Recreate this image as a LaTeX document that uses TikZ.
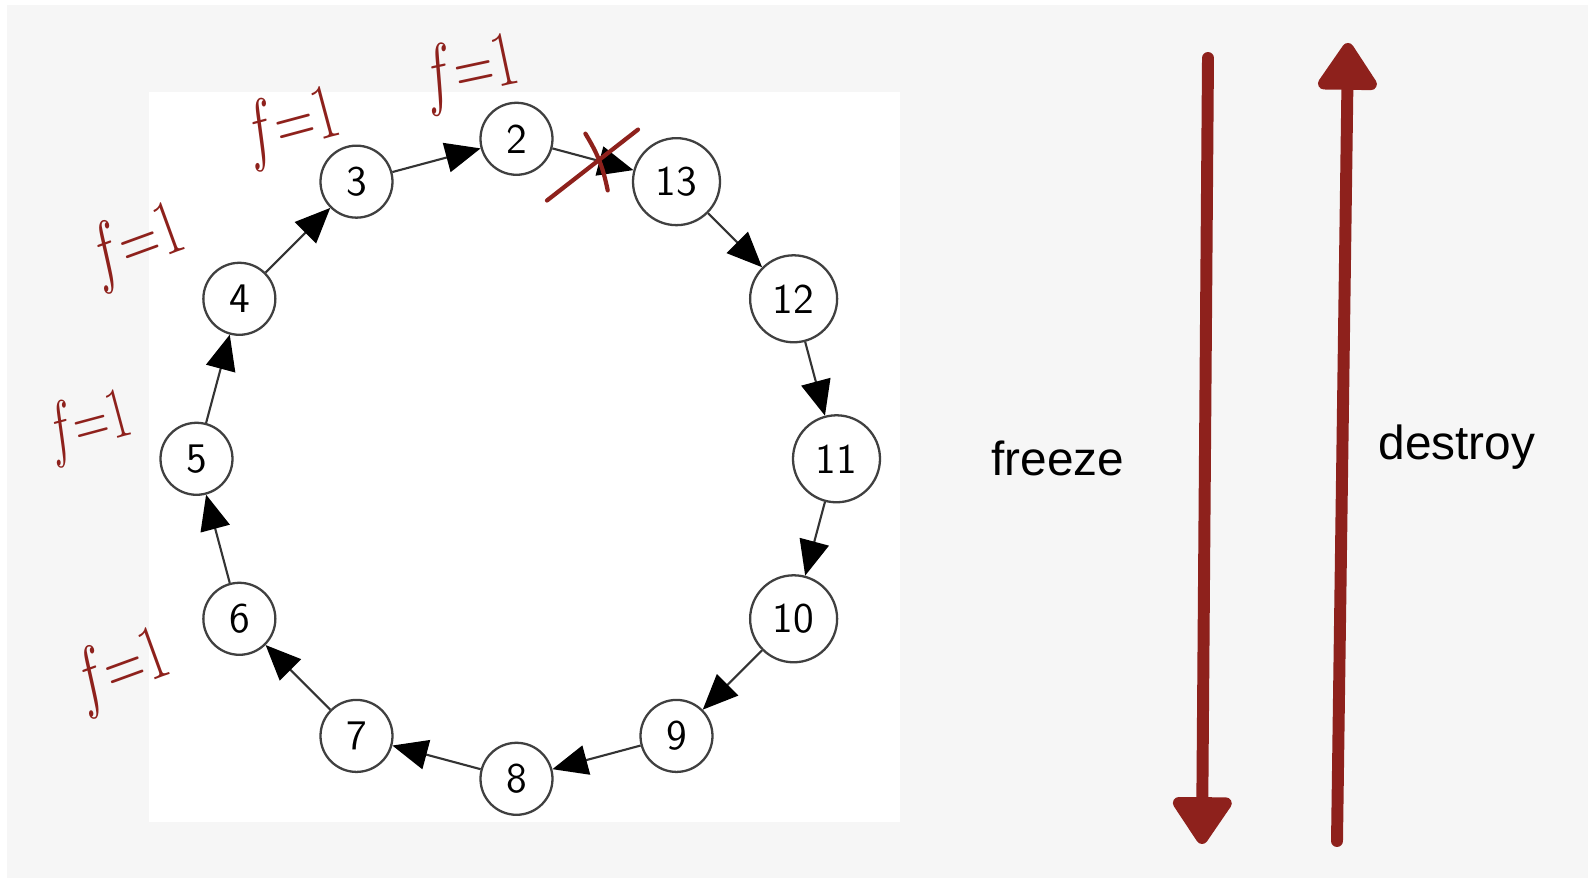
\documentclass[tikz,border=0pt]{standalone}
\usepackage{fontspec}
\newfontfamily\labelfont{Liberation Sans}
\usetikzlibrary{arrows.meta}
\definecolor{handred}{RGB}{142,33,28}
\definecolor{slidegray}{RGB}{246,246,246}

\begin{document}
\begin{tikzpicture}[
    every node/.style={font=\sffamily\fontsize{12}{14}\selectfont},
    vert/.style={circle, draw=black!75, line width=0.65pt, fill=white,
      minimum size=7.2mm, inner sep=0pt},
    wide/.style={minimum size=8.7mm},
    edge/.style={-{Triangle[length=10pt,width=8.5pt,color=black]},
      line width=0.6pt, black!80},
    fnote/.style={text=handred, font=\fontsize{18}{20}\selectfont},
    bigarrow/.style={-{Triangle[length=0.52cm,width=0.66cm,round]},
      line width=3.4pt, handred, line cap=round},
  ]
  \def\R{3.2cm}

  % slide background and the white panel behind the ring
  \useasboundingbox (-5.165,-4.222) rectangle (10.715,4.588);
  \fill[slidegray] (-5.095,-4.192) rectangle (10.715,4.538);
  \fill[white] (-3.675,-3.632) rectangle (3.835,3.668);

  \node[vert] (n2) at (90:\R) {2};
  \node[vert] (n3) at (120:\R) {3};
  \node[vert] (n4) at (150:\R) {4};
  \node[vert] (n5) at (180:\R) {5};
  \node[vert] (n6) at (210:\R) {6};
  \node[vert] (n7) at (240:\R) {7};
  \node[vert] (n8) at (270:\R) {8};
  \node[vert] (n9) at (300:\R) {9};
  \node[vert, wide] (n10) at (330:\R) {10};
  \node[vert, wide] (n11) at (0:\R) {11};
  \node[vert, wide] (n12) at (30:\R) {12};
  \node[vert, wide] (n13) at (60:\R) {13};

  \draw[edge] (n13) -- (n12);
  \draw[edge] (n12) -- (n11);
  \draw[edge] (n11) -- (n10);
  \draw[edge] (n10) -- (n9);
  \draw[edge] (n9) -- (n8);
  \draw[edge] (n8) -- (n7);
  \draw[edge] (n7) -- (n6);
  \draw[edge] (n6) -- (n5);
  \draw[edge] (n5) -- (n4);
  \draw[edge] (n4) -- (n3);
  \draw[edge] (n3) -- (n2);
  \draw[edge] (n2) -- (n13);

  % crossed-out link
  \draw[handred, line width=1.2pt, line cap=round] (0.305,2.583) -- (1.215,3.292);
  \draw[handred, line width=1.2pt, line cap=round] (0.689,3.251) to[bend left=10] (0.912,2.684);

  % hand notes
  \node[fnote, rotate=20] (f4) at (-3.795,2.128) {\scalebox{0.9}[1.3]{$f{=}1$}};
  \node[fnote, rotate=15] (f3) at (-2.245,3.318) {\scalebox{0.9}[1.3]{$f{=}1$}};
  \node[fnote, rotate=12] (f2) at (-0.455,3.858) {\scalebox{0.9}[1.3]{$f{=}1$}};
  \node[fnote, rotate=15] (f5) at (-4.275,0.318) {\scalebox{0.8}[1.2]{$f{=}1$}};
  \node[fnote, rotate=20] (f6) at (-3.945,-2.122) {\scalebox{0.9}[1.3]{$f{=}1$}};

  \coordinate (fz top) at (6.915,4.008);
  \coordinate (fz bot) at (6.855,-3.852);
  \coordinate (ds bot) at (8.205,-3.822);
  \coordinate (ds top) at (8.315,4.158);
  \draw[bigarrow] (fz top) -- (fz bot);
  \draw[bigarrow] (ds bot) -- (ds top);

  \node[font=\labelfont\fontsize{13.6}{16}\selectfont, anchor=base] (freeze) at (5.415,-0.172) {freeze};
  \node[font=\labelfont\fontsize{13.6}{16}\selectfont, anchor=base] (destroy) at (9.405,-0.012) {destroy};
\end{tikzpicture}
\end{document}
